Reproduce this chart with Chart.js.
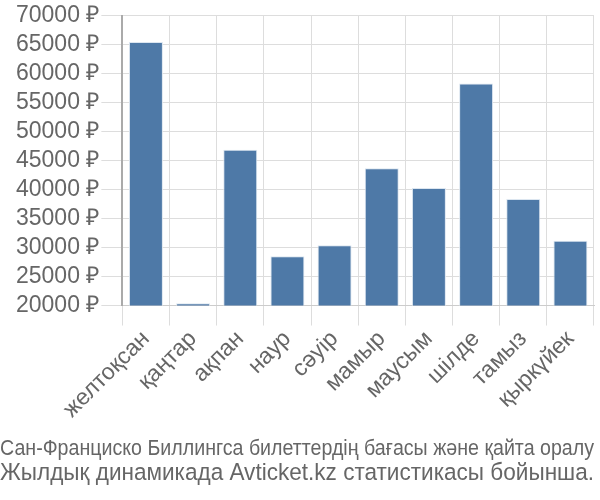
<!DOCTYPE html>
<html>
<head>
<meta charset="utf-8">
<script src="https://cdn.jsdelivr.net/npm/chart.js@4"></script>
<style>
    html, body { margin: 0; padding: 0; background: #fff; }
    #wrap { width: 600px; height: 500px; }
</style>
</head>
<body>
<div id="wrap"><canvas id="priceChart"></canvas></div>
<script>
const months = ['желтоқсан', 'қаңтар', 'ақпан', 'наур', 'сәуір', 'мамыр', 'маусым', 'шілде', 'тамыз', 'қыркүйек'];
const prices = [65500, 20400, 46900, 28500, 30400, 43700, 40300, 58300, 38400, 31200];
const yTicks = [20000, 25000, 30000, 35000, 40000, 45000, 50000, 55000, 60000, 65000, 70000];
const titleLines = [
    'Сан-Франциско Биллингса билеттердің бағасы және қайта оралу',
    'Жылдық динамикада Avticket.kz статистикасы бойынша.'
];

const canvas = document.getElementById('priceChart');

new Chart(canvas, {
    type: 'bar',
    data: {
        labels: months,
        datasets: [{
            data: prices,
            backgroundColor: '#4e79a7',
            borderColor: '#dce6f0',
            borderWidth: 1
        }]
    },
    options: {
        responsive: true,
        maintainAspectRatio: false,
        animation: false,
        layout: { padding: { top: 4, right: 6, left: 0, bottom: 0 } },
        plugins: {
            legend: { display: false },
            tooltip: { enabled: false },
            subtitle: {
                display: true,
                position: 'bottom',
                text: titleLines[0],
                color: '#666',
                font: { family: 'Liberation Sans', size: 22, lineHeight: 1 },
                padding: { top: 14, bottom: 1 }
            },
            title: {
                display: true,
                position: 'bottom',
                text: titleLines[1],
                color: '#666',
                font: { family: 'Liberation Sans', size: 24.5, weight: 'normal', lineHeight: 1 },
                padding: { top: 0, bottom: 15 }
            }
        },
        scales: {
            x: {
                grid: { color: '#ddd', tickLength: 20 },
                border: { color: '#ccc' },
                ticks: {
                    color: '#666',
                    font: { family: 'Liberation Sans', size: 23 },
                    maxRotation: 45,
                    minRotation: 45,
                    padding: 0
                }
            },
            y: {
                min: 20000,
                max: 70000,
                afterBuildTicks: axis => { axis.ticks = yTicks.map(v => ({ value: v })); },
                afterFit: axis => { axis.width += 14; },
                grid: { color: '#ddd', tickLength: 21 },
                border: { color: '#aaa', width: 2 },
                ticks: {
                    color: '#666',
                    font: { family: 'Liberation Sans', size: 23 },
                    padding: 2,
                    autoSkip: false,
                    callback: v => v + ' ₽'
                }
            }
        }
    }
});
</script>
</body>
</html>
